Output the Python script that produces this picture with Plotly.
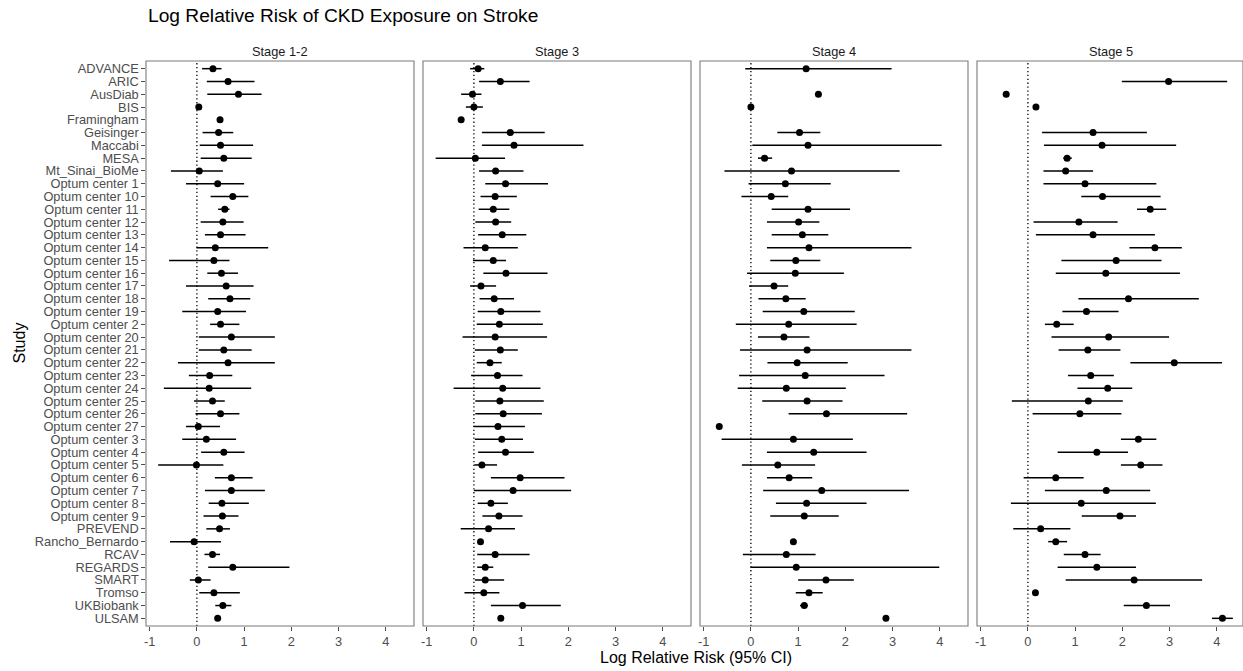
import plotly.graph_objects as go

studies = ["ADVANCE", "ARIC", "AusDiab", "BIS", "Framingham", "Geisinger", "Maccabi", "MESA",
           "Mt_Sinai_BioMe", "Optum center 1", "Optum center 10", "Optum center 11",
           "Optum center 12", "Optum center 13", "Optum center 14", "Optum center 15",
           "Optum center 16", "Optum center 17", "Optum center 18", "Optum center 19",
           "Optum center 2", "Optum center 20", "Optum center 21", "Optum center 22",
           "Optum center 23", "Optum center 24", "Optum center 25", "Optum center 26",
           "Optum center 27", "Optum center 3", "Optum center 4", "Optum center 5",
           "Optum center 6", "Optum center 7", "Optum center 8", "Optum center 9",
           "PREVEND", "Rancho_Bernardo", "RCAV", "REGARDS", "SMART", "Tromso",
           "UKBiobank", "ULSAM"]

stage_names = ["Stage 1-2", "Stage 3", "Stage 4", "Stage 5"]
x_ticks = [-1, 0, 1, 2, 3, 4]

s12_est = [0.34, 0.66, 0.88, 0.04, 0.49, 0.46, 0.50, 0.57, 0.05, 0.44, 0.76, 0.59, 0.55, 0.50, 0.39,
           0.36, 0.52, 0.62, 0.70, 0.44, 0.50, 0.73, 0.57, 0.66, 0.27, 0.26, 0.33, 0.50, 0.03, 0.20,
           0.57, -0.01, 0.73, 0.73, 0.53, 0.54, 0.48, -0.06, 0.33, 0.76, 0.03, 0.36, 0.55, 0.44]
s12_lo = [0.11, 0.21, 0.22, None, None, 0.12, 0.06, 0.08, -0.55, -0.23, 0.29, 0.45, 0.08, 0.17, -0.01,
          -0.59, 0.22, -0.23, 0.24, -0.31, 0.28, 0.04, 0.04, -0.40, -0.17, -0.70, -0.06, -0.03, -0.23,
          -0.31, 0.09, -0.82, 0.38, 0.17, 0.25, 0.14, 0.20, -0.57, 0.16, 0.24, -0.15, 0.05, 0.39, None]
s12_hi = [0.52, 1.22, 1.37, None, None, 0.77, 1.19, 1.16, 0.55, 1.00, 1.09, 0.69, 0.99, 1.03, 1.51,
          0.69, 0.87, 1.20, 1.13, 1.04, 0.90, 1.65, 1.16, 1.65, 0.75, 1.15, 0.59, 0.90, 0.49, 0.83,
          1.01, 0.56, 1.18, 1.44, 1.10, 0.88, 0.70, 0.51, 0.49, 1.96, 0.29, 0.91, 0.73, None]

s3_est = [0.09, 0.56, -0.03, 0.00, -0.27, 0.77, 0.85, 0.03, 0.46, 0.67, 0.45, 0.41, 0.46, 0.60, 0.24,
          0.41, 0.68, 0.15, 0.43, 0.57, 0.54, 0.45, 0.56, 0.34, 0.50, 0.61, 0.55, 0.62, 0.51, 0.59,
          0.67, 0.17, 0.98, 0.83, 0.36, 0.53, 0.31, 0.14, 0.45, 0.24, 0.24, 0.21, 1.03, 0.57]
s3_lo = [-0.08, 0.11, -0.27, -0.17, None, 0.17, 0.17, -0.81, 0.11, 0.24, 0.14, 0.10, 0.03, 0.09, -0.22,
         -0.02, 0.20, -0.08, 0.12, 0.08, 0.06, -0.24, 0.02, 0.06, -0.06, -0.43, 0.03, 0.03, -0.01, 0.02,
         0.09, 0.01, 0.36, 0.00, 0.08, 0.18, -0.28, None, 0.07, 0.07, 0.02, -0.20, 0.36, None]
s3_hi = [0.22, 1.18, 0.16, 0.19, None, 1.50, 2.32, 0.66, 1.05, 1.57, 0.91, 0.75, 0.79, 1.11, 0.93,
         0.68, 1.56, 0.47, 0.85, 1.41, 1.46, 1.55, 0.93, 0.59, 1.03, 1.41, 1.48, 1.44, 1.08, 1.04,
         1.27, 0.49, 1.92, 2.06, 0.72, 1.03, 0.87, None, 1.18, 0.41, 0.64, 0.54, 1.84, None]

s4_est = [1.17, None, 1.43, 0.00, None, 1.03, 1.21, 0.29, 0.86, 0.73, 0.43, 1.21, 1.01, 1.09, 1.23,
          0.95, 0.94, 0.49, 0.74, 1.12, 0.80, 0.70, 1.19, 0.98, 1.15, 0.75, 1.19, 1.60, -0.67, 0.90,
          1.33, 0.57, 0.81, 1.50, 1.18, 1.13, None, 0.90, 0.75, 0.96, 1.59, 1.23, 1.13, 2.86]
s4_lo = [-0.12, None, None, None, None, 0.56, 0.03, 0.15, -0.56, -0.05, -0.20, 0.44, 0.34, 0.44, 0.34,
         0.41, -0.08, -0.04, 0.16, 0.25, -0.32, 0.15, -0.23, 0.35, -0.25, -0.28, 0.24, 0.80, None, -0.62,
         0.34, -0.19, 0.34, 0.26, 0.53, 0.41, None, None, -0.17, -0.01, 1.00, 0.95, 1.04, None]
s4_hi = [2.98, None, None, None, None, 1.47, 4.04, 0.45, 3.15, 1.69, 0.79, 2.10, 1.45, 1.64, 3.40,
         1.47, 1.97, 0.79, 1.16, 2.20, 2.24, 1.24, 3.40, 2.05, 2.83, 2.01, 1.94, 3.31, None, 2.16,
         2.45, 1.36, 1.30, 3.35, 2.45, 1.86, None, None, 1.37, 3.99, 2.18, 1.52, 1.21, None]

s5_est = [None, 2.98, -0.46, 0.17, None, 1.38, 1.57, 0.83, 0.80, 1.21, 1.58, 2.59, 1.08, 1.38, 2.69,
          1.87, 1.65, None, 2.13, 1.24, 0.61, 1.71, 1.27, 3.10, 1.33, 1.69, 1.28, 1.10, None, 2.34,
          1.46, 2.39, 0.59, 1.66, 1.13, 1.95, 0.27, 0.59, 1.21, 1.46, 2.25, 0.16, 2.51, 4.12]
s5_lo = [None, 1.99, None, None, None, 0.30, 0.34, 0.75, 0.33, 0.33, 1.13, 2.31, 0.12, 0.17, 2.15,
         0.71, 0.59, None, 1.07, 0.73, 0.36, 0.50, 0.65, 2.17, 0.85, 1.05, -0.34, 0.10, None, 1.97,
         0.63, 1.97, -0.09, 0.36, -0.36, 1.14, -0.31, 0.43, 0.76, 0.63, 0.80, None, 2.03, 3.90]
s5_hi = [None, 4.22, None, None, None, 2.52, 3.14, 0.93, 1.38, 2.72, 2.81, 2.93, 1.90, 2.69, 3.26,
         2.83, 3.22, None, 3.62, 1.92, 0.97, 2.99, 1.96, 4.11, 1.82, 2.21, 2.01, 1.98, None, 2.72,
         2.12, 2.85, 1.18, 2.59, 2.71, 2.29, 0.90, 0.83, 1.54, 2.29, 3.69, None, 3.01, 4.34]

stages = [(s12_est, s12_lo, s12_hi), (s3_est, s3_lo, s3_hi),
          (s4_est, s4_lo, s4_hi), (s5_est, s5_lo, s5_hi)]

# ---- layout geometry (pixels) ----
FIG_W, FIG_H = 1243, 671
M_L, M_R, M_T, M_B = 146, 0, 60.6, 45
PLOT_W = FIG_W - M_L - M_R
PLOT_H = FIG_H - M_T - M_B
PANEL_W, GAP = 268, 9
X_MIN, X_MAX = -1.078, 4.598
PX_PER_UNIT = PANEL_W / (X_MAX - X_MIN)

FONT = "Liberation Sans"
TICK_FONT = dict(family=FONT, size=12.8, color="#4D4D4D")
BORDER = "#7A7A7A"

fig = go.Figure()
layout = {}
shapes = []
annotations = []

for k, (est, lo, hi) in enumerate(stages):
    sfx = "" if k == 0 else str(k + 1)
    plus = [(h - e) if (h is not None and e is not None) else 0 for e, h in zip(est, hi)]
    minus = [(e - l) if (l is not None and e is not None) else 0 for e, l in zip(est, lo)]
    fig.add_trace(go.Scatter(
        x=est, y=studies, mode="markers", xaxis="x" + sfx, yaxis="y" + sfx,
        marker=dict(color="black", size=7),
        error_x=dict(type="data", symmetric=False, array=plus, arrayminus=minus,
                     width=0, thickness=1.5, color="black"),
        showlegend=False, hoverinfo="x+y"))

    x0 = k * (PANEL_W + GAP)
    x1 = min(x0 + PANEL_W, PLOT_W)
    xmax_k = X_MIN + (x1 - x0) / PX_PER_UNIT
    layout["xaxis" + sfx] = dict(
        domain=[x0 / PLOT_W, x1 / PLOT_W], anchor="y" + sfx, range=[X_MIN, xmax_k],
        tickmode="array", tickvals=x_ticks, ticktext=[str(t) for t in x_ticks],
        ticks="outside", ticklen=3.7, tickwidth=1, tickcolor="#4D4D4D",
        showgrid=False, zeroline=False, showline=False, tickfont=TICK_FONT)
    layout["yaxis" + sfx] = dict(
        domain=[0, 1], anchor="x" + sfx, type="category",
        categoryorder="array", categoryarray=studies, range=[len(studies) - 0.4, -0.6],
        tickmode="array", tickvals=studies, ticktext=studies,
        showgrid=False, zeroline=False, showline=False,
        ticks="outside" if k == 0 else "", ticklen=3.7, tickwidth=1, tickcolor="#4D4D4D",
        showticklabels=(k == 0), tickfont=TICK_FONT)

    # vertical dotted reference line at 0
    shapes.append(dict(type="line", xref="x" + sfx, yref="y" + sfx + " domain",
                       x0=0, x1=0, y0=0, y1=1, layer="below",
                       line=dict(color="black", width=1.3, dash="1.3px,2.6px")))
    # panel border
    shapes.append(dict(type="rect", xref="x" + sfx + " domain", yref="y" + sfx + " domain",
                       x0=0, x1=1, y0=0, y1=1, layer="above",
                       line=dict(color=BORDER, width=1.1), fillcolor="rgba(0,0,0,0)"))
    # strip label
    annotations.append(dict(text=stage_names[k], xref="paper", yref="paper",
                            x=(x0 + PANEL_W / 2) / PLOT_W, y=1 + (M_T - 51.5) / PLOT_H,
                            xanchor="center", yanchor="middle", showarrow=False,
                            font=dict(family=FONT, size=12.8, color="#1A1A1A")))

annotations.append(dict(text="Log Relative Risk of CKD Exposure on Stroke", xref="paper", yref="paper",
                        x=0, y=1 + (M_T - 15) / PLOT_H, xanchor="left", yanchor="middle",
                        showarrow=False, font=dict(family=FONT, size=19.2, color="black")))
annotations.append(dict(text="Log Relative Risk (95% CI)", xref="paper", yref="paper",
                        x=(4 * PANEL_W + 3 * GAP) / 2 / PLOT_W, y=-(658 - (FIG_H - M_B)) / PLOT_H,
                        xanchor="center", yanchor="middle", showarrow=False,
                        font=dict(family=FONT, size=16, color="black")))
annotations.append(dict(text="Study", xref="paper", yref="paper",
                        x=(19 - M_L) / PLOT_W, y=0.5, xanchor="center", yanchor="middle",
                        textangle=-90, showarrow=False,
                        font=dict(family=FONT, size=16, color="black")))

fig.update_layout(
    width=FIG_W, height=FIG_H,
    margin=dict(l=M_L, r=M_R, t=M_T, b=M_B, pad=0),
    paper_bgcolor="white", plot_bgcolor="white",
    shapes=shapes, annotations=annotations,
    font=dict(family=FONT),
    **layout)

fig.write_html("out.html", config={"displayModeBar": False},
               post_script="document.body.style.margin='0';document.body.style.overflow='hidden';")
